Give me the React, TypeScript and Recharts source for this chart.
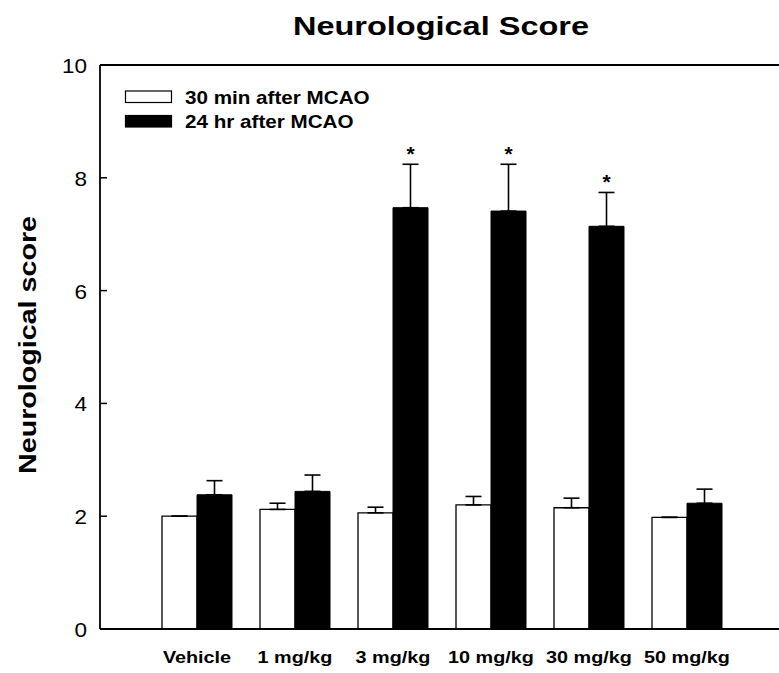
import React from 'react';
import { BarChart, Bar, XAxis, YAxis, ErrorBar, ReferenceLine, Legend, LabelList } from 'recharts';

const categories = ['Vehicle', '1 mg/kg', '3 mg/kg', '10 mg/kg', '30 mg/kg', '50 mg/kg'];
const seriesNames = ['30 min after MCAO', '24 hr after MCAO'];
const min30 = [2.0, 2.12, 2.06, 2.2, 2.15, 1.98];
const min30Err = [0, 0.11, 0.1, 0.15, 0.17, 0];
const hr24 = [2.38, 2.44, 7.47, 7.41, 7.14, 2.23];
const hr24Err = [0.25, 0.29, 0.77, 0.83, 0.6, 0.25];
const significant = ['', '', '*', '*', '*', ''];
const yTicks = [0, 2, 4, 6, 8, 10];

const FONT = '"Liberation Sans", Arial, Helvetica, sans-serif';

const data = categories.map((name, i) => ({
  name,
  min30: min30[i],
  min30Err: [0, min30Err[i]],
  hr24: hr24[i],
  hr24Err: [0, hr24Err[i]],
  sig: significant[i],
}));

const XTick = (props: any) => {
  const { x, y, payload } = props;
  return (
    <text
      transform={`translate(${x},${y + 34}) scale(1.2,1)`}
      textAnchor="middle"
      fontFamily={FONT}
      fontWeight="bold"
      fontSize={16.5}
      fill="#000"
    >
      {payload.value}
    </text>
  );
};

const YTick = (props: any) => {
  const { x, y, payload } = props;
  return (
    <g>
      <line x1={x + 13} x2={x + 20} y1={y} y2={y} stroke="#000" strokeWidth={1.5} />
      <text
        transform={`translate(${x},${y + 8}) scale(1.1,1)`}
        textAnchor="end"
        fontFamily={FONT}
        fontSize={20.5}
        fill="#000"
      >
        {payload.value}
      </text>
    </g>
  );
};

const StarLabel = (props: any) => {
  const { x, y, width, height, value, index } = props;
  if (!value) return null;
  const v = hr24[index];
  const ppu = height / v;
  const capY = y - hr24Err[index] * ppu;
  return (
    <text
      x={x + width / 2}
      y={capY - 3}
      textAnchor="middle"
      fontFamily={FONT}
      fontWeight="bold"
      fontSize={21}
      fill="#000"
    >
      {value}
    </text>
  );
};

const LegendContent = (props: any) => {
  const { payload } = props;
  const items = [...(payload || [])].sort(
    (a: any, b: any) => seriesNames.indexOf(a.value) - seriesNames.indexOf(b.value)
  );
  return (
    <svg width={400} height={140} style={{ display: 'block' }}>
      {items.map((entry: any, i: number) => (
        <g key={i}>
          <rect
            x={125.5}
            y={91 + i * 24.5}
            width={46}
            height={11.5}
            fill={entry.color}
            stroke="#000"
            strokeWidth={1.2}
          />
          <text
            transform={`translate(185,${103.5 + i * 24}) scale(1.18,1)`}
            fontFamily={FONT}
            fontWeight="bold"
            fontSize={17.5}
            fill="#000"
          >
            {entry.value}
          </text>
        </g>
      ))}
    </svg>
  );
};

export default function App() {
  return (
    <div style={{ position: 'absolute', left: 0, top: 0, width: 779, height: 673, background: '#fff' }}>
      <BarChart
        width={779}
        height={673}
        data={data}
        margin={{ top: 65, right: 0, bottom: 0, left: 0 }}
        barSize={35}
        barGap={0}
      >
        <XAxis
          dataKey="name"
          height={44}
          padding={{ left: 48, right: 43 }}
          axisLine={{ stroke: '#000', strokeWidth: 1.8 }}
          tickLine={false}
          tickSize={0}
          tickMargin={0}
          tick={<XTick />}
          interval={0}
        />
        <YAxis
          width={100}
          domain={[0, 10]}
          ticks={yTicks}
          allowDataOverflow
          axisLine={{ stroke: '#000', strokeWidth: 1.8 }}
          tickLine={false}
          tickSize={0}
          tickMargin={13}
          tick={<YTick />}
        />
        <ReferenceLine y={10} stroke="#000" strokeWidth={1.8} />
        <Legend
          layout="vertical"
          verticalAlign="middle"
          align="center"
          content={<LegendContent />}
          wrapperStyle={{ top: 0, left: 0, width: 400, height: 140 }}
        />
        <Bar dataKey="min30" name={seriesNames[0]} fill="#ffffff" stroke="#000" strokeWidth={1.3} isAnimationActive={false}>
          <ErrorBar dataKey="min30Err" width={8} stroke="#000" strokeWidth={1.6} direction="y" isAnimationActive={false} />
        </Bar>
        <Bar dataKey="hr24" name={seriesNames[1]} fill="#000000" stroke="#000" strokeWidth={1} isAnimationActive={false}>
          <ErrorBar dataKey="hr24Err" width={8} stroke="#000" strokeWidth={1.6} direction="y" isAnimationActive={false} />
          <LabelList dataKey="sig" content={<StarLabel />} />
        </Bar>
      </BarChart>
      <svg width={779} height={673} style={{ position: 'absolute', left: 0, top: 0, pointerEvents: 'none' }}>
        <text
          x={441}
          y={35}
          textAnchor="middle"
          fontFamily={FONT}
          fontWeight="bold"
          fontSize={25}
          textLength={296}
          lengthAdjust="spacingAndGlyphs"
          fill="#000"
        >
          Neurological Score
        </text>
        <text
          transform="translate(36,345) rotate(-90)"
          textAnchor="middle"
          fontFamily={FONT}
          fontWeight="bold"
          fontSize={24}
          textLength={258}
          lengthAdjust="spacingAndGlyphs"
          fill="#000"
        >
          Neurological score
        </text>
      </svg>
    </div>
  );
}
